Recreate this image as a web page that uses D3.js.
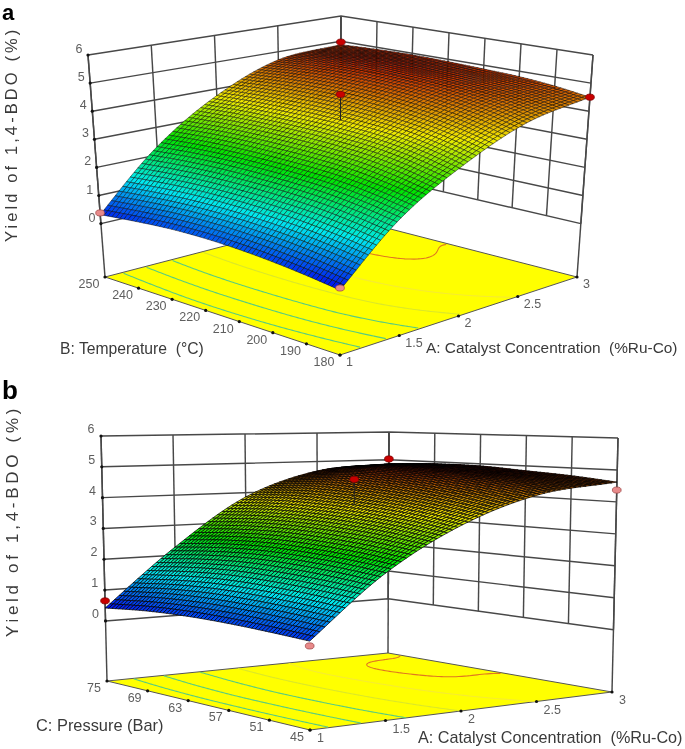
<!DOCTYPE html>
<html><head><meta charset="utf-8">
<script src="https://cdn.jsdelivr.net/npm/d3@7"></script>
<style>html,body{margin:0;padding:0;background:#fff}svg{display:block;filter:blur(0.55px)}text{font-family:"Liberation Sans",Arial,sans-serif}</style>
</head><body><svg id="c" width="685" height="749"></svg>
<script>
// ---- data ----
const catalystTicks = [1, 1.5, 2, 2.5, 3];
const temperatureTicks = [180, 190, 200, 210, 220, 230, 240, 250];
const pressureTicks = [45, 51, 57, 63, 69, 75];
const yieldTicks = [0, 1, 2, 3, 4, 5, 6];

// yield by catalyst (rows) and temperature (columns)
const yieldA = [
  [0.20, 0.35, 0.47, 0.55, 0.58, 0.55, 0.45, 0.32],
  [2.00, 2.20, 2.35, 2.42, 2.45, 2.45, 2.40, 2.30],
  [3.22, 3.50, 3.70, 3.80, 3.85, 3.85, 3.82, 3.75],
  [4.13, 4.40, 4.60, 4.76, 4.85, 4.87, 4.81, 4.69],
  [4.50, 4.68, 4.80, 4.86, 4.91, 4.94, 4.92, 4.87]
];
// yield by catalyst (rows) and pressure (columns)
const yieldB = [
  [0.62, 0.66, 0.68, 0.66, 0.58, 0.42],
  [2.40, 2.50, 2.55, 2.55, 2.45, 2.27],
  [3.65, 3.80, 3.90, 3.95, 3.95, 3.85],
  [4.40, 4.58, 4.72, 4.81, 4.83, 4.67],
  [4.62, 4.75, 4.84, 4.93, 4.93, 4.86]
];
const contourLevelsA = [0.9, 1.7, 2.5, 3.3, 4.1, 4.9];
const contourLevelsB = [1.1, 1.9, 2.8, 3.65, 4.4, 4.88];

// design points: catalyst, factor, yield, above surface?
const pointsA = [[1,250,0.38,0],[1,180,0.27,0],[3,250,4.97,1],[3,180,4.5,1],[2,215,4.75,1]];
const pointsB = [[1,75,0.65,1],[1,45,0.48,0],[3,75,5.03,1],[3,45,4.37,0],[2,60,4.75,1]];

const panelLabels = ["a", "b"];
const yTitle = "Yield of 1,4-BDO (%)";
const xTitle = "A: Catalyst Concentration  (%Ru-Co)";
const factorTitles = ["B: Temperature  (°C)", "C: Pressure (Bar)"];

// ---- rendering ----
const svg = d3.select("#c");
const colorStops = ["#0008f0", "#00e8f0", "#00e400", "#f0ea00", "#c82800"];

function catmull(p0, p1, p2, p3, t) {
  return 0.5 * (2*p1 + (p2-p0)*t + (2*p0-5*p1+4*p2-p3)*t*t + (3*p1-p0-3*p2+p3)*t*t*t);
}
function sample(arr, f) {
  const n = arr.length - 1, i = Math.min(Math.floor(f), n - 1), t = f - i;
  const g = k => k < 0 ? 2*arr[0]-arr[1] : k > n ? 2*arr[n]-arr[n-1] : arr[k];
  return catmull(g(i-1), g(i), g(i+1), g(i+2), t);
}

function panel(cfg) {
  const g = svg.append("g");
  const su = d3.scaleLinear().domain(d3.extent(cfg.xs)).range([0, 1]);
  const sv = d3.scaleLinear().domain(d3.extent(cfg.ys)).range([0, 1]);
  const sw = d3.scaleLinear().domain([cfg.zFloor, 6]).range([0, 1]);
  const c = cfg.corners;
  const lerp = (a, b, t) => a + (b - a) * t;
  function proj(A, B, z) {
    const u = su(A), v = sv(B), w = sw(z);
    return [0, 1].map(d => {
      const bot = lerp(lerp(c.front[d], c.right[d], u), lerp(c.left[d], c.back[d], u), v);
      const top = lerp(lerp(c.frontTop[d], c.rightTop[d], u), lerp(c.leftTop[d], c.backTop[d], u), v);
      return lerp(bot, top, w);
    });
  }
  const line = d3.line();
  const xMin = su.domain()[0], xMax = su.domain()[1], yMin = sv.domain()[0], yMax = sv.domain()[1];
  const tableAt = (A, B) => {
    const fa = su(A) * (cfg.table.length - 1), fb = sv(B) * (cfg.table[0].length - 1);
    return sample(cfg.table.map(r => sample(r, fb)), fa);
  };

  // floor
  g.append("path").attr("d", line([proj(xMin,yMin,cfg.zFloor),proj(xMax,yMin,cfg.zFloor),proj(xMax,yMax,cfg.zFloor),proj(xMin,yMax,cfg.zFloor)])+"Z")
    .attr("fill", "#ffff00").attr("stroke", "#555").attr("stroke-width", 1);

  const allZ = cfg.table.flat();
  const colour = d3.scaleLinear()
    .domain(d3.range(5).map(i => d3.min(allZ) + (d3.max(allZ) - d3.min(allZ)) * i / 4))
    .range(colorStops);

  // contours on floor
  const N = 120;
  const values = [];
  for (let j = 0; j < N; j++) for (let i = 0; i < N; i++)
    values.push(tableAt(lerp(xMin, xMax, i/(N-1)), lerp(yMin, yMax, j/(N-1))));
  const contours = d3.contours().size([N, N]).thresholds(cfg.levels).smooth(true)(values);
  contours.forEach(ct => {
    const segs = [];
    ct.coordinates.forEach(poly => poly.forEach(ring => {
      let cur = [];
      ring.forEach(pt => {
        const inside = pt[0] > 0.51 && pt[0] < N-0.51 && pt[1] > 0.51 && pt[1] < N-0.51;
        if (inside) {
          cur.push(proj(lerp(xMin, xMax, (pt[0]-0.5)/(N-1)), lerp(yMin, yMax, (pt[1]-0.5)/(N-1)), cfg.zFloor));
        } else { if (cur.length > 1) segs.push(cur); cur = []; }
      });
      if (cur.length > 1) segs.push(cur);
    }));
    g.append("path").attr("d", segs.map(s => line(s)).join(""))
      .attr("fill", "none").attr("stroke-width", 1.1)
      .attr("stroke", ct.value > 4.5 ? "#e07820" : ct.value > 3.9 ? "#f6ec30" : ct.value > 3 ? "#dce828" : "#58cc80");
  });

  // walls
  const walls = g.append("g").attr("fill", "none").attr("stroke", "#484848").attr("stroke-width", 1.45);
  yieldTicks.forEach(z => {
    walls.append("path").attr("d", line([proj(xMin,yMax,z), proj(xMax,yMax,z), proj(xMax,yMin,z)]));
  });
  cfg.xs.forEach(A => walls.append("path").attr("d", line([proj(A,yMax,0), proj(A,yMax,6)])));
  cfg.ys.forEach(B => walls.append("path").attr("d", line([proj(xMax,B,0), proj(xMax,B,6)])));
  [[xMin,yMax],[xMax,yMax],[xMax,yMin]].forEach(([A,B]) =>
    walls.append("path").attr("d", line([proj(A,B,cfg.zFloor), proj(A,B,6)])));

  // surface mesh, painted back to front
  const M = 60, cells = [];
  const X = d3.range(M+1).map(i => lerp(xMax, xMin, i/M));
  const Y = d3.range(M+1).map(i => lerp(yMax, yMin, i/M));
  const Z = X.map(a => Y.map(b => tableAt(a, b)));
  for (let i = 0; i < M; i++) for (let j = 0; j < M; j++) {
    cells.push({
      pts: [proj(X[i],Y[j],Z[i][j]), proj(X[i+1],Y[j],Z[i+1][j]), proj(X[i+1],Y[j+1],Z[i+1][j+1]), proj(X[i],Y[j+1],Z[i][j+1])],
      z: (Z[i][j]+Z[i+1][j]+Z[i+1][j+1]+Z[i][j+1])/4
    });
  }
  g.append("g").selectAll("path").data(cells).join("path")
    .attr("d", d => line(d.pts)+"Z")
    .attr("fill", d => colour(d.z))
    .attr("stroke", "#000").attr("stroke-width", cfg.meshWidth).attr("stroke-opacity", cfg.meshOpacity);

  // design points
  const pts = g.append("g");
  cfg.points.forEach(p => {
    const q = proj(p[0], p[1], p[2]);
    if (p[0] === 2) {
      pts.append("path").attr("d", line([q, proj(p[0], p[1], tableAt(p[0], p[1]))])).attr("stroke", "#222").attr("stroke-width", 1);
    }
    pts.append("ellipse").attr("cx", q[0]).attr("cy", q[1]).attr("rx", 4.4).attr("ry", 3.1)
      .attr("fill", p[3] ? "#c80000" : "#e88a8a").attr("stroke", p[3] ? "#700" : "#944").attr("stroke-width", 0.7);
  });

  // ticks & labels
  const tickFill = "#5e5e5e", fs = cfg.tickSize;
  const dot = q => g.append("circle").attr("cx", q[0]).attr("cy", q[1]).attr("r", 1.6).attr("fill", "#111");
  const label = (x, y, t, anchor) => g.append("text").attr("x", x).attr("y", y).attr("text-anchor", anchor)
    .attr("dominant-baseline", "central").attr("font-size", fs).attr("fill", tickFill).text(t);
  yieldTicks.forEach(z => {
    const q = proj(xMin, yMax, z); dot(q);
    label(q[0]+cfg.zOff[0], q[1]+cfg.zOff[1], z, "middle");
  });
  cfg.ys.forEach(B => {
    const q = proj(xMin, B, cfg.zFloor); dot(q);
    label(q[0]+cfg.yOff[0], q[1]+cfg.yOff[1], B, "middle");
  });
  cfg.xs.forEach(A => {
    const q = proj(A, yMin, cfg.zFloor); dot(q);
    label(q[0]+cfg.xOff[0], q[1]+cfg.xOff[1], A, "start");
  });

  // titles
  g.append("text").attr("x", 2).attr("y", cfg.letterY).attr("font-size", cfg.letterSize).attr("font-weight", 700).attr("fill", "#000").text(cfg.letter);
  g.append("text").attr("transform", `translate(${cfg.yTitle[0]},${cfg.yTitle[1]}) rotate(-90)`)
    .attr("font-size", cfg.yTitleSize).attr("letter-spacing", cfg.yTitleSpacing).attr("fill", "#3a3a3a")
    .attr("dominant-baseline", "central").text(yTitle);
  g.append("text").attr("x", cfg.fTitle[0]).attr("y", cfg.fTitle[1]).attr("font-size", cfg.fTitleSize)
    .attr("fill", "#3a3a3a").attr("dominant-baseline", "central").style("white-space", "pre").text(cfg.factorTitle);
  g.append("text").attr("x", cfg.xTitle[0]).attr("y", cfg.xTitle[1]).attr("font-size", cfg.xTitleSize)
    .attr("fill", "#3a3a3a").attr("dominant-baseline", "central").style("white-space", "pre").text(xTitle);
}

panel({
  letter: panelLabels[0], letterY: 20, letterSize: 22,
  xs: catalystTicks, ys: temperatureTicks, table: yieldA, levels: contourLevelsA, points: pointsA,
  zFloor: -1.9, meshWidth: 0.6, meshOpacity: 0.75, tickSize: 12.5,
  corners: { front:[340,355], right:[577,277], left:[105,277], back:[340,216],
             frontTop:[340,111], rightTop:[593,55], leftTop:[88,55], backTop:[341,16] },
  zOff:[-9,-6], yOff:[-16,7], xOff:[6,7],
  yTitle:[11,242], yTitleSize:16.5, yTitleSpacing:3.1,
  factorTitle: factorTitles[0], fTitle:[60,348], fTitleSize:15.7,
  xTitle:[426,347], xTitleSize:15.4
});
panel({
  letter: panelLabels[1], letterY: 399, letterSize: 26,
  xs: catalystTicks, ys: pressureTicks, table: yieldB, levels: contourLevelsB, points: pointsB,
  zFloor: -1.95, meshWidth: 0.85, meshOpacity: 0.85, tickSize: 12.5,
  corners: { front:[310,730], right:[612,692], left:[107,681], back:[388,653],
             frontTop:[309,455], rightTop:[618,438], leftTop:[101,436], backTop:[389,432] },
  zOff:[-10,-7], yOff:[-13,7], xOff:[7,8],
  yTitle:[12,637], yTitleSize:17, yTitleSpacing:3.7,
  factorTitle: factorTitles[1], fTitle:[36,725], fTitleSize:16.4,
  xTitle:[418,737], xTitleSize:16.2
});
</script></body></html>
